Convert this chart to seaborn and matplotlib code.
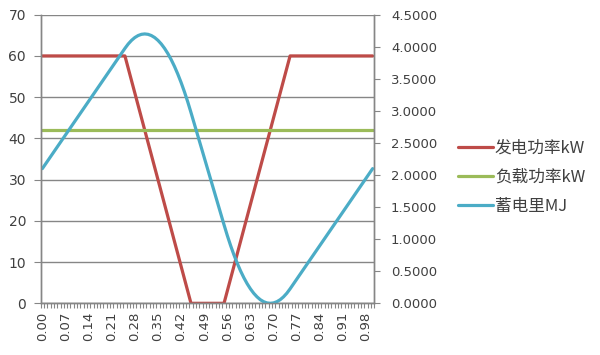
import numpy as np
import pandas as pd
import matplotlib
matplotlib.use("Agg")
import matplotlib.pyplot as plt
import seaborn as sns
from matplotlib.ticker import FixedLocator, FormatStrFormatter

# ---- data ----
categories = [f"{i / 100:.2f}" for i in range(101)]

gen_power = ([60] * 26 +
             [57, 54, 51, 48, 45, 42, 39, 36, 33, 30, 27, 24, 21, 18, 15, 12, 9, 6, 3] +
             [0] * 11 +
             [3, 6, 9, 12, 15, 18, 21, 24, 27, 30, 33, 36, 39, 42, 45, 48, 51, 54, 57] +
             [60] * 26)

load_power = [42] * 101

storage = [2.1, 2.175, 2.25, 2.325, 2.4, 2.475, 2.55, 2.625, 2.7, 2.775, 2.85, 2.925,
           3.0, 3.075, 3.15, 3.225, 3.3, 3.375, 3.45, 3.525, 3.6, 3.675, 3.75, 3.825,
           3.9, 3.975,
           4.044, 4.1, 4.144, 4.175, 4.194, 4.2, 4.194, 4.175, 4.144, 4.1, 4.044, 3.975,
           3.894, 3.8, 3.694, 3.575, 3.444, 3.3, 3.144, 2.975,
           2.8, 2.625, 2.45, 2.275, 2.1, 1.925, 1.75, 1.575, 1.4, 1.225,
           1.056, 0.9, 0.756, 0.625, 0.506, 0.4, 0.306, 0.225, 0.156, 0.1, 0.056, 0.025,
           0.006, 0.0, 0.006, 0.025, 0.056, 0.1, 0.156, 0.225,
           0.3, 0.375, 0.45, 0.525, 0.6, 0.675, 0.75, 0.825, 0.9, 0.975, 1.05, 1.125,
           1.2, 1.275, 1.35, 1.425, 1.5, 1.575, 1.65, 1.725, 1.8, 1.875, 1.95, 2.025, 2.1]

series_names = ["发电功率kW", "负载功率kW", "蓄电里MJ"]
left_ticks = [0, 10, 20, 30, 40, 50, 60, 70]
right_ticks = [0, 0.5, 1.0, 1.5, 2.0, 2.5, 3.0, 3.5, 4.0, 4.5]
label_step = 7

df = pd.DataFrame({"pos": np.arange(len(categories)),
                   "gen": gen_power, "load": load_power, "store": storage})

# ---- style ----
sns.set_theme(style="white")
plt.rcParams["font.family"] = ["DejaVu Sans", "Noto Sans CJK SC"]

red = "#BE4B48"
green = "#9BBB59"
blue = "#4BACC6"
grid_c = "#868686"
text_c = "#404040"

fig = plt.figure(figsize=(6.0, 3.55), dpi=100)
ax = fig.add_axes([40.7 / 600, (355 - 303.3) / 355, (374.3 - 40.7) / 600, (303.3 - 14.7) / 355])
ax2 = ax.twinx()

sns.lineplot(data=df, x="pos", y="gen", ax=ax, color=red, linewidth=2.3, label=series_names[0], legend=False)
sns.lineplot(data=df, x="pos", y="load", ax=ax, color=green, linewidth=2.3, label=series_names[1], legend=False)
sns.lineplot(data=df, x="pos", y="store", ax=ax2, color=blue, linewidth=2.3, label=series_names[2], legend=False)

n = len(categories)
ax.set_xlim(-0.5, n - 0.5)
ax.set_ylim(0, 70)
ax2.set_ylim(0, 4.5)

ax.set_xlabel("")
ax.set_ylabel("")
ax2.set_ylabel("")

# gridlines
ax.set_yticks(left_ticks)
ax.yaxis.grid(True, color=grid_c, linewidth=1.0)
ax.xaxis.grid(False)
ax2.grid(False)
ax.set_axisbelow(True)

# x ticks: labels every 7 categories, minor tick marks at category boundaries
label_pos = list(range(0, n, label_step))
ax.set_xticks(label_pos)
ax.set_xticklabels([categories[i] for i in label_pos], rotation=90)
ax.xaxis.set_minor_locator(FixedLocator(np.arange(-0.5, n, 1.0)))
ax.tick_params(axis="x", which="major", length=0, pad=6, labelsize=9.5, labelcolor=text_c)
ax.tick_params(axis="x", which="minor", length=3.5, width=0.8, color=grid_c, direction="out", bottom=True)

ax.tick_params(axis="y", which="major", length=5, width=0.8, color=grid_c, direction="out",
               pad=5.5, labelsize=10, labelcolor=text_c, left=True)

ax2.set_yticks(right_ticks)
ax2.yaxis.set_major_formatter(FormatStrFormatter("%.4f"))
ax2.tick_params(axis="y", which="major", length=4, width=0.8, color=grid_c, direction="out",
                pad=8, labelsize=9.5, labelcolor=text_c, right=True)

for a in (ax, ax2):
    a.spines["top"].set_visible(False)
    for side in ("left", "right", "bottom"):
        a.spines[side].set_color(grid_c)
        a.spines[side].set_linewidth(1.0)

# legend
handles = ax.get_lines()[:2] + ax2.get_lines()[:1]
leg = fig.legend(handles, series_names, loc="upper left",
                 bbox_to_anchor=(458 / 600, (355 - 140) / 355),
                 frameon=False, borderpad=0, borderaxespad=0,
                 handlelength=2.1, handletextpad=0.1, labelspacing=0.72,
                 prop={"family": ["Noto Sans CJK SC", "DejaVu Sans"], "size": 12})
for t in leg.get_texts():
    t.set_color(text_c)

fig.savefig("out.png", dpi=100)
